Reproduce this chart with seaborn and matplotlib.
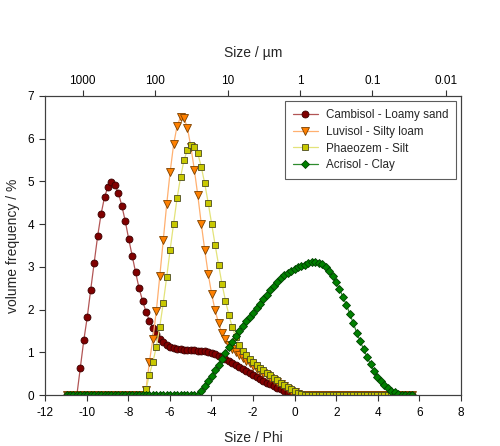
import numpy as np
import matplotlib
matplotlib.use('Agg')
import matplotlib.pyplot as plt
import seaborn as sns

# Mastersizer size classes, 2000 um down to 0.02 um, plotted as -log2(size)
size_um = 2000 / 10 ** (0.05 * np.arange(101))
phi = -np.log2(size_um)

cambisol = [0, 0, 0, 0,
            0.64, 1.28, 1.82, 2.46, 3.09, 3.71, 4.23, 4.63, 4.87, 4.98,
            4.91, 4.73, 4.43, 4.07, 3.65, 3.26, 2.87, 2.50, 2.21, 1.95,
            1.74, 1.57, 1.43, 1.32, 1.24, 1.18, 1.13, 1.10, 1.08, 1.07,
            1.06, 1.06, 1.05, 1.05, 1.04, 1.03, 1.02, 1.00, 0.98, 0.95,
            0.92, 0.88, 0.84, 0.80, 0.75, 0.70, 0.65, 0.60, 0.56, 0.51,
            0.47, 0.42, 0.38, 0.33, 0.29, 0.25, 0.21, 0.17, 0.13, 0.09,
            0.06, 0.03, 0.01,
            0, 0, 0, 0, 0, 0, 0, 0, 0, 0, 0, 0, 0, 0, 0, 0, 0,
            0, 0, 0, 0, 0, 0, 0, 0, 0, 0, 0, 0, 0, 0, 0, 0, 0]

luvisol = [0, 0, 0, 0, 0, 0, 0, 0, 0, 0, 0, 0, 0, 0, 0, 0, 0, 0, 0, 0, 0, 0, 0,
           0.12, 0.78, 1.31, 1.97, 2.78, 3.62, 4.46, 5.22, 5.86, 6.29,
           6.50, 6.48, 6.25, 5.80, 5.27, 4.67, 4.01, 3.40, 2.84, 2.37,
           1.98, 1.69, 1.45, 1.30, 1.18, 1.08, 1.00, 0.93, 0.86, 0.80,
           0.74, 0.68, 0.62, 0.57, 0.51, 0.46, 0.40, 0.35, 0.30, 0.25,
           0.20, 0.15, 0.10, 0.06, 0.03, 0.01,
           0, 0, 0, 0, 0, 0, 0, 0, 0, 0, 0, 0, 0, 0, 0, 0,
           0, 0, 0, 0, 0, 0, 0, 0, 0, 0, 0, 0, 0, 0, 0, 0]

phaeozem = [0, 0, 0, 0, 0, 0, 0, 0, 0, 0, 0, 0, 0, 0, 0, 0, 0, 0, 0, 0, 0, 0, 0,
            0.13, 0.48, 0.77, 1.13, 1.60, 2.15, 2.76, 3.40, 4.01, 4.60,
            5.09, 5.49, 5.74, 5.85, 5.80, 5.65, 5.34, 4.95, 4.50, 4.01,
            3.52, 3.05, 2.60, 2.21, 1.87, 1.58, 1.36, 1.17, 1.03, 0.93,
            0.85, 0.78, 0.71, 0.64, 0.58, 0.52, 0.46, 0.40, 0.34, 0.28,
            0.23, 0.18, 0.13, 0.09, 0.05, 0.02,
            0, 0, 0, 0, 0, 0, 0, 0, 0, 0, 0, 0, 0, 0, 0, 0,
            0, 0, 0, 0, 0, 0, 0, 0, 0, 0, 0, 0, 0, 0, 0, 0]

acrisol = [0, 0, 0, 0, 0, 0, 0, 0, 0, 0, 0, 0, 0, 0, 0, 0, 0, 0, 0, 0,
           0, 0, 0, 0, 0, 0, 0, 0, 0, 0, 0, 0, 0, 0, 0, 0, 0, 0, 0,
           0.10, 0.22, 0.33, 0.45, 0.58, 0.71, 0.85, 0.99, 1.12, 1.25,
           1.37, 1.49, 1.61, 1.72, 1.83, 1.93, 2.03, 2.13, 2.24, 2.35,
           2.46, 2.56, 2.65, 2.73, 2.80, 2.86, 2.91, 2.95, 2.99, 3.02,
           3.05, 3.08, 3.10, 3.10, 3.09, 3.06, 3.00, 2.90, 2.78, 2.64,
           2.48, 2.30, 2.11, 1.90, 1.68, 1.46, 1.26, 1.07, 0.89, 0.72,
           0.57, 0.43, 0.32, 0.23, 0.16, 0.10, 0.06, 0.03, 0.01,
           0, 0, 0]

names = ['Cambisol - Loamy sand', 'Luvisol - Silty loam',
         'Phaeozem - Silt', 'Acrisol - Clay']

# top axis ticks as placed in the original figure (phi positions)
top_tick_pos = [-10.19, -6.70, -3.22, 0.26, 3.74, 7.27]
top_labels = ['1000', '100', '10', '1', '0.1', '0.01']

sns.set_style('ticks')
plt.rcParams['font.family'] = ['Liberation Sans', 'DejaVu Sans']
plt.rcParams['axes.unicode_minus'] = False

fig = plt.figure(figsize=(5, 4.46), dpi=100)
ax = fig.add_axes([0.09, 0.1143, 0.832, 0.671])

styles = [
    dict(marker='o', color='#b25555', mfc='#800000', mec='#3a0000', ms=5),
    dict(marker='v', color='#ffb070', mfc='#ff8000', mec='#7a4000', ms=5.5),
    dict(marker='s', color='#e3e37a', mfc='#c8c800', mec='#4a4a20', ms=4.8),
    dict(marker='D', color='#2e8b2e', mfc='#008000', mec='#004000', ms=4.5),
]

for name, vals, st in zip(names, [cambisol, luvisol, phaeozem, acrisol], styles):
    sns.lineplot(x=phi, y=vals, ax=ax, color=st['color'], lw=0.9,
                 marker=st['marker'], markersize=st['ms'],
                 markerfacecolor=st['mfc'], markeredgecolor=st['mec'],
                 markeredgewidth=0.6, label=name, sort=False, estimator=None)

ax.set_xlim(-12, 8)
ax.set_ylim(0, 7)
ax.set_xticks(range(-12, 9, 2))
ax.set_yticks(range(0, 8))
ax.tick_params(labelsize=8.5, length=4, width=0.8, colors='#333333',
               labelcolor='black')
ax.tick_params(axis='x', pad=4.5)
ax.tick_params(axis='y', pad=4)
ax.set_xlabel('Size / Phi', fontsize=10, labelpad=8.5)
ax.set_ylabel('volume frequency / %', fontsize=10, labelpad=5)
for sp in ax.spines.values():
    sp.set_color('#404040')
    sp.set_linewidth(0.8)

ax2 = ax.twiny()
ax2.set_xlim(ax.get_xlim())
ax2.set_xticks(top_tick_pos)
ax2.set_xticklabels(top_labels)
ax2.tick_params(labelsize=8.5, length=4, width=0.8, colors='#333333',
                labelcolor='black', pad=2)
ax2.set_xlabel('Size / µm', fontsize=10, labelpad=13)
for sp in ax2.spines.values():
    sp.set_color('#404040')
    sp.set_linewidth(0.8)

leg = ax.legend(loc='upper right', bbox_to_anchor=(0.989, 0.982),
                borderaxespad=0, fontsize=8.4, frameon=True, fancybox=False,
                edgecolor='#333333', handlelength=2.2, labelspacing=0.42,
                borderpad=0.65, handletextpad=0.7)
leg.get_frame().set_linewidth(0.8)

fig.savefig('out.png', dpi=100)
